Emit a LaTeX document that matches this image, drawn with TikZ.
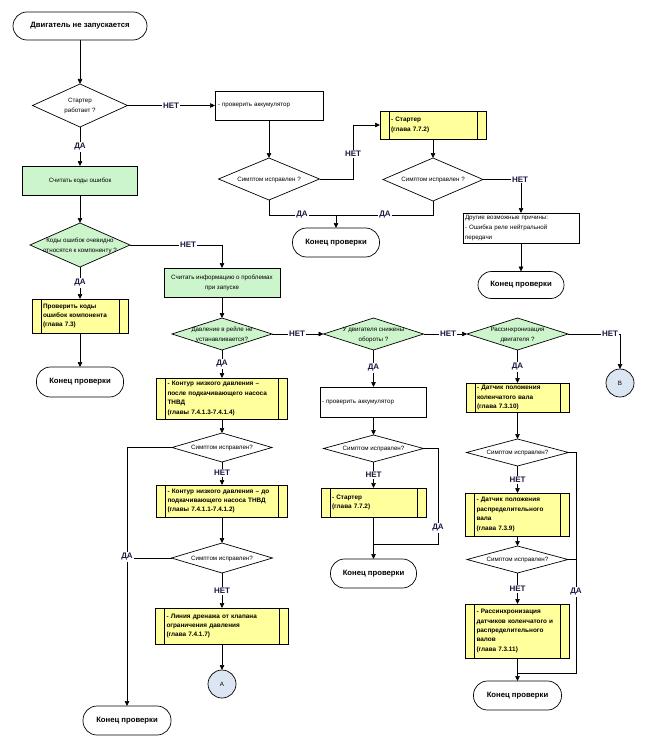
\documentclass[tikz,border=0pt]{standalone}
\usepackage{fontspec}
\setmainfont{Liberation Sans}
\usetikzlibrary{shapes.geometric,arrows.meta}
\definecolor{gfill}{HTML}{CCF5CC}
\definecolor{yfill}{HTML}{FFFF9C}
\definecolor{cfill}{HTML}{DCE6F2}
\definecolor{lblc}{HTML}{1A1A40}
\newcommand\fsm{\fontsize{6.2}{10}\selectfont}
\newcommand\fbx{\fontsize{6.4}{9.4}\selectfont\bfseries}
\newcommand\ftm{\fontsize{7.7}{9}\selectfont\bfseries}
\newcommand\flb{\fontsize{8}{9}\selectfont\bfseries}
\newcommand\zw[1]{\makebox[0pt]{\begin{tabular}{@{}c@{}}#1\end{tabular}}}
\tikzset{
  base/.style={draw=black, line width=0.7pt, inner sep=0pt, outer sep=0pt},
  term/.style={base, fill=white, rounded corners=14pt, font=\ftm},
  dia/.style={base, diamond, fill=white, font=\fsm},
  gdia/.style={dia, fill=gfill},
  gbox/.style={base, fill=gfill, font=\fsm, align=center},
  wbox/.style={base, fill=white, font=\fsm, align=left, inner xsep=3pt},
  pbox/.style={base, fill=yfill, font=\fbx, align=left, inner xsep=11pt, inner ysep=1pt,
    path picture={\draw[line width=0.7pt]
      ([xshift=9pt]path picture bounding box.north west) -- ([xshift=9pt]path picture bounding box.south west)
      ([xshift=-9pt]path picture bounding box.north east) -- ([xshift=-9pt]path picture bounding box.south east);}},
  conn/.style={base, circle, fill=cfill, minimum size=28pt, font=\fsm},
  lbl/.style={fill=white, font=\flb, text=lblc, inner sep=1pt},
  arr/.style={line width=0.7pt, -{Triangle[length=5pt,width=4.5pt]}},
  ln/.style={line width=0.7pt}
}
\begin{document}
\begin{tikzpicture}[x=1pt,y=-1pt]
\useasboundingbox[fill=white] (0,0) rectangle (646,749);
% ---- column 1
\node[term, minimum width=134pt, minimum height=28pt] (S) at (80,26) {Двигатель не запускается};
\node[dia, minimum width=95pt, minimum height=43pt] (D1) at (80,105.5) {\zw{Стартер\\работает ?}};
\node[gbox, minimum width=115pt, minimum height=29pt] (G1) at (80,180.5) {Считать коды ошибок};
\node[gdia, minimum width=100pt, minimum height=44pt] (D2) at (80,245) {\zw{Коды ошибок очевидно\\относятся к компоненту ?}};
\node[pbox, text width=74pt, minimum height=34pt] (P1) at (80,316) {Проверить коды\\ошибок компонента\\(глава 7.3)};
\node[term, minimum width=87pt, minimum height=30pt] (T1) at (80,382) {Конец проверки};
% ---- top middle
\node[wbox, text width=102pt, minimum height=29pt] (W1) at (269,105.5) {- проверить аккумулятор};
\node[dia, minimum width=101pt, minimum height=42pt] (D3) at (269,179) {\zw{Симптом исправлен ?}};
\node[pbox, text width=84pt, minimum height=28pt] (P2) at (433,125) {- Стартер\\(глава 7.7.2)};
\node[dia, minimum width=100pt, minimum height=43pt] (D4) at (433,179.5) {\zw{Симптом исправлен ?}};
\node[term, minimum width=87pt, minimum height=29pt] (T2) at (336,242.5) {Конец проверки};
\node[wbox, inner xsep=2pt, text width=112pt, minimum height=30pt] (W2) at (521,228) {Другие возможные причины:\\- Ошибка реле нейтральной\\передачи};
\node[term, minimum width=86pt, minimum height=27pt, rounded corners=13.5pt] (T3) at (521,285) {Конец проверки};
% ---- column 2
\node[gbox, minimum width=116pt, minimum height=29pt] (G2) at (222,282.5) {Считать информацию о проблемах\\при запуске};
\node[gdia, minimum width=100pt, minimum height=32pt] (D5) at (222,334) {\zw{Давление в рейле не\\устанавливается?}};
\node[pbox, text width=109pt, minimum height=41pt] (P3) at (222,398.5) {- Контур низкого давления --\\после подкачивающего насоса\\ТНВД\\(главы 7.4.1.3-7.4.1.4)};
\node[dia, minimum width=100pt, minimum height=29pt] (D8) at (222,447.5) {\zw{Симптом исправлен?}};
\node[pbox, text width=109pt, minimum height=32pt] (P4) at (222,501) {- Контур низкого давления -- до\\подкачивающего насоса ТНВД\\(главы 7.4.1.1-7.4.1.2)};
\node[dia, minimum width=101pt, minimum height=30pt] (D9) at (222,558) {\zw{Симптом исправлен?}};
\node[pbox, text width=111pt, minimum height=36pt] (P5) at (222,626) {- Линия дренажа от клапана\\ограничения давления\\(глава 7.4.1.7)};
\node[conn] (A) at (222,684) {А};
\node[term, minimum width=88pt, minimum height=29pt] (T4) at (127,720.5) {Конец проверки};
% ---- column 3
\node[gdia, minimum width=100pt, minimum height=32pt] (D6) at (373.5,334) {\zw{У двигателя снижены\\обороты ?}};
\node[wbox, inner xsep=1.5pt, text width=103pt, minimum height=30pt] (W3) at (373.5,402) {- проверить аккумулятор};
\node[dia, minimum width=100pt, minimum height=27pt] (D10) at (373.5,448.5) {\zw{Симптом исправлен?}};
\node[pbox, text width=83pt, minimum height=29pt] (P6) at (373.5,502.5) {- Стартер\\(глава 7.7.2)};
\node[term, minimum width=86pt, minimum height=29pt] (T5) at (373.5,573.5) {Конец проверки};
% ---- column 4
\node[gdia, minimum width=101pt, minimum height=32pt] (D7) at (517.5,334) {\zw{Рассинхронизация\\двигателя ?}};
\node[conn] (B) at (620,383) {В};
\node[pbox, text width=81pt, minimum height=29pt] (P7) at (517.5,397.5) {- Датчик положения\\коленчатого вала\\(глава 7.3.10)};
\node[dia, minimum width=102pt, minimum height=27pt] (D11) at (517.5,452.5) {\zw{Симптом исправлен?}};
\node[pbox, text width=82pt, minimum height=43pt] (P8) at (517.5,514.5) {- Датчик положения\\распределительного\\вала\\(глава 7.3.9)};
\node[dia, minimum width=101pt, minimum height=27pt] (D12) at (517.5,559.5) {\zw{Симптом исправлен?}};
\node[pbox, text width=82pt, minimum height=54pt] (P9) at (517.5,631) {- Рассинхронизация\\датчиков коленчатого и\\распределительного\\валов\\(глава 7.3.11)};
\node[term, minimum width=88pt, minimum height=29pt] (T6) at (517.5,695.5) {Конец проверки};
% ---- junction coordinates
\coordinate (j1) at (336,215);
\coordinate (k1) at (353,179);
\coordinate (k2) at (353,125);
\coordinate (j2) at (373.5,544);
\coordinate (k3) at (438,544);
\coordinate (j3) at (517.5,673);
\coordinate (k4) at (576,673);
\coordinate (k5) at (127,558);
% ---- connectors
\draw[arr] (S) -- (D1);
\draw[arr] (D1.east) -- (W1.west);
\draw[arr] (D1.south) -- (G1.north);
\draw[arr] (G1.south) -- (D2.north);
\draw[arr] (D2.east) -| (G2.north);
\draw[arr] (D2.south) -- (P1.north);
\draw[arr] (P1.south) -- (T1.north);
\draw[arr] (W1.south) -- (D3.north);
\draw[arr] (D3.east) -- (k1) -- (k2) -- (P2.west);
\draw[arr] (P2.south) -- (D4.north);
\draw[arr] (D4.east) -| (W2.north);
\draw[ln] (D3.south) |- (j1);
\draw[ln] (D4.south) |- (j1);
\draw[arr] (j1) -- (T2.north);
\draw[arr] (W2.south) -- (T3.north);
\draw[arr] (G2.south) -- (D5.north);
\draw[arr] (D5.east) -- (D6.west);
\draw[arr] (D6.east) -- (D7.west);
\draw[arr] (D7.east) -| (B.north);
\draw[arr] (D5.south) -- (P3.north);
\draw[arr] (P3.south) -- (D8.north);
\draw[arr] (D8.west) -| (T4.north);
\draw[arr] (D8.south) -- (P4.north);
\draw[arr] (P4.south) -- (D9.north);
\draw[ln] (D9.west) -- (k5);
\draw[arr] (D9.south) -- (P5.north);
\draw[arr] (P5.south) -- (A.north);
\draw[arr] (D6.south) -- (W3.north);
\draw[arr] (W3.south) -- (D10.north);
\draw[arr] (D10.south) -- (P6.north);
\draw[arr] (P6.south) -- (T5.north);
\draw[ln] (D10.east) -| (k3) -- (j2);
\draw[arr] (D7.south) -- (P7.north);
\draw[arr] (P7.south) -- (D11.north);
\draw[arr] (D11.south) -- (P8.north);
\draw[arr] (P8.south) -- (D12.north);
\draw[arr] (D12.south) -- (P9.north);
\draw[arr] (P9.south) -- (T6.north);
\draw[ln] (D11.east) -| (k4) -- (j3);
\draw[ln] (D12.east) -- (D12.east -| k4);
% ---- labels
\node[lbl] (l1) at (171,105.5) {НЕТ};
\node[lbl] (l2) at (80,147) {ДА};
\node[lbl] (l3) at (188,245) {НЕТ};
\node[lbl] (l4) at (80,283) {ДА};
\node[lbl] (l5) at (353,154) {НЕТ};
\node[lbl] (l6) at (520,179.5) {НЕТ};
\node[lbl] (l7) at (302,215) {ДА};
\node[lbl] (l8) at (385,215) {ДА};
\node[lbl] (l9) at (297,334) {НЕТ};
\node[lbl] (l10) at (448,334) {НЕТ};
\node[lbl] (l11) at (610,334) {НЕТ};
\node[lbl] (l12) at (222,364) {ДА};
\node[lbl] (l13) at (222,473) {НЕТ};
\node[lbl] (l14) at (127,557) {ДА};
\node[lbl] (l15) at (222,591) {НЕТ};
\node[lbl] (l16) at (373.5,368) {ДА};
\node[lbl] (l17) at (373.5,475) {НЕТ};
\node[lbl] (l18) at (438,528) {ДА};
\node[lbl] (l19) at (517.5,367) {ДА};
\node[lbl] (l20) at (517.5,480) {НЕТ};
\node[lbl] (l21) at (517.5,589) {НЕТ};
\node[lbl] (l22) at (576,592) {ДА};
\end{tikzpicture}
\end{document}
